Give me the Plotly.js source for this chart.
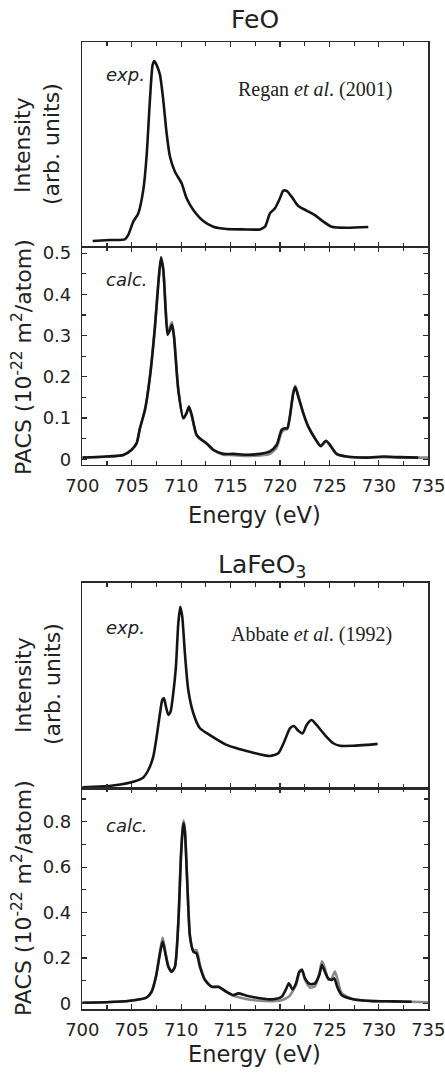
<!DOCTYPE html>
<html>
<head>
<meta charset="utf-8">
<script src="https://cdn.plot.ly/plotly-3.0.1.min.js"></script>
<style>html,body{margin:0;padding:0;background:#fff;}#chart{width:445px;height:1074px;}</style>
</head>
<body>
<div id="chart"></div>
<script>
// ---------- DATA ----------
// FeO experimental (arb. units)
var feoExpE = [701.05,702.8,704.3,704.65,705.16,705.66,706.17,706.5,706.84,707.11,707.28,707.52,707.86,708.19,708.53,708.87,709.37,710.05,710.55,711.23,712.24,713.25,714.6,716.28,717.97,718.48,718.98,719.49,719.99,720.33,720.67,721.17,721.85,722.69,723.53,724.38,725.22,726.74,728.93];
var feoExpI = [0.029,0.034,0.037,0.059,0.124,0.164,0.279,0.441,0.718,0.889,0.909,0.889,0.840,0.718,0.555,0.441,0.368,0.311,0.238,0.181,0.127,0.099,0.088,0.086,0.086,0.099,0.164,0.189,0.238,0.275,0.274,0.246,0.200,0.178,0.156,0.124,0.099,0.094,0.098];
// FeO calculated PACS (1e-22 m^2/atom)
var feoCalcE = [700,702.46,704.15,704.99,705.5,705.83,706.34,706.84,707.35,707.69,707.96,708.19,708.43,708.63,708.87,709.07,709.27,709.71,710.22,710.55,710.79,711.06,711.56,712.07,712.51,713.25,714.26,715.27,716.62,717.97,718.98,719.66,720.16,720.5,720.74,721.0,721.34,721.54,721.85,722.35,722.86,723.53,724.11,724.65,725.05,725.73,726.74,728.76,730.45,732.13,733.98];
var feoCalcBlack = [0.004,0.0065,0.0105,0.023,0.039,0.075,0.12,0.20,0.322,0.427,0.49,0.46,0.362,0.302,0.314,0.326,0.298,0.168,0.0995,0.112,0.128,0.108,0.059,0.047,0.040,0.023,0.013,0.013,0.011,0.013,0.019,0.035,0.071,0.075,0.075,0.104,0.160,0.175,0.152,0.112,0.079,0.051,0.032,0.045,0.035,0.013,0.0065,0.004,0.0065,0.005,0.004];
var feoCalcGreyE = [700,702.46,704.15,704.99,705.5,705.83,706.34,706.84,707.35,707.69,707.96,708.19,708.43,708.63,708.87,709.07,709.27,709.71,710.22,710.55,710.79,711.06,711.56,712.07,712.51,713.25,714.26,715.27,716.62,717.97,718.98,719.66,720.16,720.5,720.74,721.0,721.34,721.54,721.85,722.35,722.86,723.53,724.11,724.65,725.05,725.73,726.74,728.76,730.45,732.13,733.98,735];
var feoCalcGrey = [0.004,0.0065,0.0105,0.023,0.039,0.075,0.12,0.20,0.322,0.427,0.485,0.462,0.368,0.308,0.322,0.333,0.302,0.170,0.100,0.112,0.126,0.106,0.058,0.046,0.039,0.022,0.011,0.010,0.008,0.009,0.013,0.028,0.065,0.072,0.073,0.104,0.162,0.178,0.154,0.112,0.079,0.050,0.031,0.044,0.034,0.012,0.006,0.004,0.005,0.004,0.004,0.004];

// LaFeO3 experimental (arb. units)
var lfoExpE = [700,701.79,703.47,705.16,706.17,706.68,707.18,707.52,707.86,708.09,708.26,708.46,708.7,708.93,709.2,709.47,709.71,709.91,710.11,710.38,710.72,711.23,711.9,712.91,714.6,715.95,717.3,718.98,719.82,720.5,721.0,721.41,721.85,722.29,722.69,723.2,723.7,724.54,725.39,726.06,727.41,728.76,729.87];
var lfoExpI = [0.005,0.008,0.016,0.032,0.053,0.089,0.154,0.251,0.365,0.43,0.438,0.397,0.357,0.373,0.462,0.592,0.802,0.883,0.835,0.656,0.478,0.365,0.292,0.259,0.211,0.190,0.173,0.157,0.170,0.235,0.292,0.303,0.280,0.267,0.308,0.332,0.308,0.259,0.219,0.207,0.207,0.211,0.216];
// LaFeO3 calculated PACS (1e-22 m^2/atom)
var lfoCalcE = [700,702.8,704.82,705.83,706.5,707.01,707.45,707.86,708.13,708.4,708.7,709.04,709.37,709.71,709.98,710.15,710.25,710.38,710.62,710.89,711.23,711.56,711.9,712.41,713.08,713.76,714.6,715.27,715.78,716.62,717.97,719.32,720.16,720.57,720.9,721.27,721.61,721.95,722.22,722.52,723.03,723.53,723.97,724.24,724.54,724.88,725.22,725.49,725.79,726.23,727.41,729.43,731.46,733.31];
var lfoCalcBlack = [0.003,0.006,0.012,0.018,0.026,0.051,0.117,0.22,0.272,0.22,0.161,0.139,0.161,0.352,0.646,0.763,0.793,0.756,0.528,0.294,0.228,0.22,0.161,0.103,0.073,0.073,0.051,0.037,0.044,0.034,0.023,0.018,0.029,0.059,0.088,0.062,0.088,0.139,0.147,0.110,0.085,0.088,0.125,0.169,0.139,0.110,0.103,0.110,0.073,0.037,0.018,0.010,0.009,0.007];
var lfoCalcGreyE = [700,702.8,704.82,705.83,706.5,707.01,707.45,707.86,708.13,708.4,708.7,709.04,709.37,709.71,709.98,710.15,710.25,710.38,710.62,710.89,711.23,711.56,711.9,712.41,713.08,713.76,714.6,715.27,716.0,717.0,718.0,719.3,720.16,720.9,721.61,721.95,722.22,722.52,723.03,723.53,723.97,724.24,724.54,724.88,725.22,725.55,725.85,726.23,727.41,729.43,731.46,733.31,735];
var lfoCalcGrey = [0.003,0.006,0.012,0.018,0.026,0.052,0.12,0.23,0.29,0.23,0.165,0.14,0.162,0.355,0.65,0.775,0.805,0.765,0.535,0.30,0.235,0.235,0.17,0.105,0.074,0.072,0.05,0.034,0.025,0.016,0.012,0.010,0.014,0.03,0.08,0.135,0.15,0.105,0.07,0.075,0.13,0.185,0.155,0.105,0.11,0.14,0.10,0.045,0.018,0.010,0.008,0.007,0.005];

// ---------- LAYOUT ----------
var W = 445, H = 1074;
function px(x){return x/W;}
function py(y){return 1 - y/H;}
var FONT = '"DejaVu Sans", Verdana, sans-serif';
var frameColor = '#2a2a2a';
var xDom = [px(82.3), px(428.3)];

function xAxisBase(showLabels, anchor){
  return {
    domain: xDom, anchor: anchor, range: [700,735], showgrid:false, zeroline:false,
    showline:true, linecolor:frameColor, linewidth:1.4, mirror:'ticks',
    ticks:'inside', ticklen:5, tickwidth:1.2, tickcolor:frameColor, dtick:5, tick0:700,
    minor:{dtick:2.5, ticks:'inside', ticklen:4, tickwidth:1.2, tickcolor:frameColor},
    showticklabels: showLabels, ticklabelstandoff: 4, ticklabeloverflow:'allow',
    tickfont:{family:FONT, size:18, color:'#222'}
  };
}
function yExpAxis(dom, anchor){
  return {domain: dom, anchor: anchor, range:[0,1], showgrid:false, zeroline:false,
    showline:true, linecolor:frameColor, linewidth:1.4, mirror:true, ticks:'', showticklabels:false};
}
function yCalcAxis(dom, anchor, range, dtick, mdtick){
  return {domain: dom, anchor: anchor, range: range, showgrid:false, zeroline:false,
    showline:true, linecolor:frameColor, linewidth:1.4, mirror:'ticks',
    ticks:'inside', ticklen:5, tickwidth:1.2, tickcolor:frameColor, dtick:dtick, tick0:0,
    minor:{dtick:mdtick, ticks:'inside', ticklen:4, tickwidth:1.2, tickcolor:frameColor},
    ticklabelstandoff: 6, ticklabeloverflow:'allow', tickfont:{family:FONT, size:18, color:'#222'}};
}

var blackLine = {color:'#141414', width:2.6, shape:'spline', smoothing:0.6};
var greyLine = {color:'#8a8a8a', width:2.6, shape:'spline', smoothing:0.6};

var traces = [
  {x:feoExpE, y:feoExpI, xaxis:'x', yaxis:'y', mode:'lines', line:blackLine},
  {x:feoCalcGreyE, y:feoCalcGrey, xaxis:'x2', yaxis:'y2', mode:'lines', line:greyLine},
  {x:feoCalcE, y:feoCalcBlack, xaxis:'x2', yaxis:'y2', mode:'lines', line:blackLine},
  {x:lfoExpE, y:lfoExpI, xaxis:'x3', yaxis:'y3', mode:'lines', line:blackLine},
  {x:lfoCalcGreyE, y:lfoCalcGrey, xaxis:'x4', yaxis:'y4', mode:'lines', line:greyLine},
  {x:lfoCalcE, y:lfoCalcBlack, xaxis:'x4', yaxis:'y4', mode:'lines', line:blackLine}
];

function ann(text, x, y, opts){
  var a = {text:text, xref:'paper', yref:'paper', x:px(x), y:py(y), showarrow:false,
    xanchor:'center', yanchor:'middle', font:{family:FONT, size:22, color:'#222'}};
  for (var k in opts){ a[k] = opts[k]; }
  return a;
}
var serif = '"Liberation Serif", "Times New Roman", serif';
var annotations = [
  ann('FeO', 255, 19, {font:{family:FONT, size:25, color:'#222'}}),
  ann('<i>exp.</i>', 104, 75, {xanchor:'left', font:{family:FONT, size:18, color:'#222'}}),
  ann('Regan <i>et al</i>. (2001)', 315, 89, {font:{family:serif, size:20, color:'#222'}}),
  ann('<i>calc.</i>', 104, 280, {xanchor:'left', font:{family:FONT, size:18, color:'#222'}}),
  ann('Energy (eV)', 255, 515, {font:{family:FONT, size:22.5, color:'#222'}}),
  ann('Intensity', 23, 145, {textangle:-90}),
  ann('(arb. units)', 52, 144, {textangle:-90}),
  ann('PACS (10<sup>-22</sup> m<sup>2</sup>/atom)', 22, 357, {textangle:-90}),

  ann('LaFeO<sub>3</sub>', 262, 566, {font:{family:FONT, size:25, color:'#222'}}),
  ann('<i>exp.</i>', 104, 627, {xanchor:'left', font:{family:FONT, size:18, color:'#222'}}),
  ann('Abbate <i>et al</i>. (1992)', 311, 634, {font:{family:serif, size:20, color:'#222'}}),
  ann('<i>calc.</i>', 104, 825, {xanchor:'left', font:{family:FONT, size:18, color:'#222'}}),
  ann('Energy (eV)', 255, 1054, {font:{family:FONT, size:22.5, color:'#222'}}),
  ann('Intensity', 23, 685, {textangle:-90}),
  ann('(arb. units)', 52, 684, {textangle:-90}),
  ann('PACS (10<sup>-22</sup> m<sup>2</sup>/atom)', 22, 898, {textangle:-90})
];

var layout = {
  width: W, height: H, margin:{l:0,r:0,t:0,b:0}, showlegend:false,
  paper_bgcolor:'#fff', plot_bgcolor:'#fff',
  xaxis: xAxisBase(false, 'y'),
  yaxis: yExpAxis([py(247), py(42.3)], 'x'),
  xaxis2: xAxisBase(true, 'y2'),
  yaxis2: yCalcAxis([py(465), py(247)], 'x2', [-0.014, 0.515], 0.1, 0.05),
  xaxis3: xAxisBase(false, 'y3'),
  yaxis3: yExpAxis([py(788.3), py(582.7)], 'x3'),
  xaxis4: xAxisBase(true, 'y4'),
  yaxis4: yCalcAxis([py(1009.3), py(788.3)], 'x4', [-0.026, 0.947], 0.2, 0.1),
  annotations: annotations
};

Plotly.newPlot('chart', traces, layout, {staticPlot:true, displayModeBar:false});
</script>
</body>
</html>
